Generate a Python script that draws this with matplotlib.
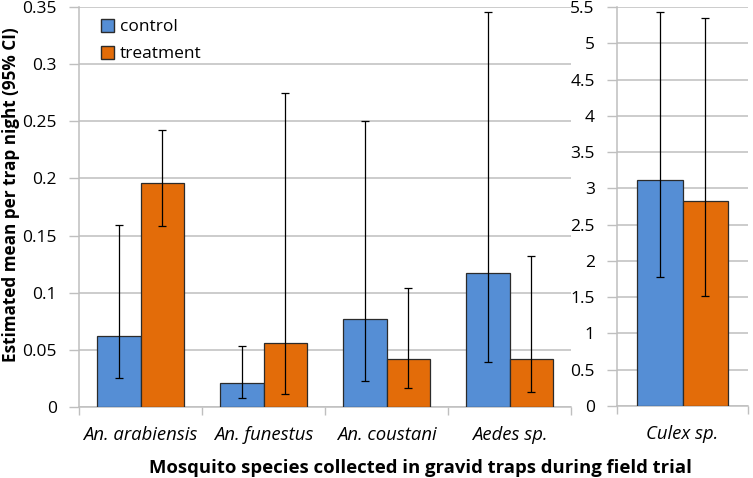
import matplotlib
matplotlib.use("Agg")
import matplotlib.pyplot as plt
import numpy as np
from matplotlib.patches import Patch

species = ["An. arabiensis", "An. funestus", "An. coustani", "Aedes sp."]
ctrl = [0.062, 0.021, 0.077, 0.117]
ctrl_lo = [0.025, 0.008, 0.023, 0.039]
ctrl_hi = [0.159, 0.053, 0.250, 0.346]
trt = [0.196, 0.056, 0.042, 0.042]
trt_lo = [0.158, 0.011, 0.017, 0.013]
trt_hi = [0.242, 0.275, 0.104, 0.132]

culex = ["Culex sp."]
culex_ctrl, culex_ctrl_lo, culex_ctrl_hi = [3.11], [1.78], [5.43]
culex_trt, culex_trt_lo, culex_trt_hi = [2.83], [1.52], [5.35]

BLUE, ORANGE = "#558ED5", "#E36C09"
GRID = "#BFBFBF"
plt.rcParams["font.family"] = ["Open Sans", "DejaVu Sans"]

fig = plt.figure(figsize=(7.53, 4.78), dpi=100)
axL = fig.add_axes([79 / 753, 1 - 407 / 478, 492 / 753, 400 / 478])
axR = fig.add_axes([617 / 753, 1 - 406 / 478, 131 / 753, 399 / 478])

W = 0.35


def draw(ax, names, c, clo, chi, t, tlo, thi, ymax, step, fmt):
    x = np.arange(len(names)) + 0.5
    c, t = np.array(c), np.array(t)
    ax.bar(x - W / 2, c, W, color=BLUE, edgecolor="#2b2b2b", lw=0.9, zorder=3)
    ax.bar(x + W / 2, t, W, color=ORANGE, edgecolor="#2b2b2b", lw=0.9, zorder=3)
    ax.errorbar(x - W / 2, c, yerr=[c - np.array(clo), np.array(chi) - c],
                fmt="none", ecolor="black", elinewidth=0.9, capsize=3,
                capthick=0.9, zorder=4)
    ax.errorbar(x + W / 2, t, yerr=[t - np.array(tlo), np.array(thi) - t],
                fmt="none", ecolor="black", elinewidth=0.9, capsize=3,
                capthick=0.9, zorder=4)
    ax.set_xlim(0, len(names))
    ax.set_ylim(0, ymax)
    ticks = np.arange(0, ymax + step / 2, step)
    ax.set_yticks(ticks)
    ax.set_yticklabels([fmt(v) for v in ticks], fontsize=12.5)
    ax.set_xticks(np.arange(len(names) + 1))
    ax.set_xticklabels([])
    ax.set_xticks(x, minor=True)
    ax.set_xticklabels(names, minor=True, style="italic", fontsize=13.3)
    ax.tick_params(axis="x", which="major", length=6, color=GRID, width=1)
    ax.tick_params(axis="x", which="minor", length=0, pad=14)
    ax.tick_params(axis="y", length=7, color=GRID, width=1, pad=9)
    ax.grid(True, axis="y", color=GRID, lw=1.1, zorder=0)
    for s in ["top", "right"]:
        ax.spines[s].set_visible(False)
    for s in ["left", "bottom"]:
        ax.spines[s].set_color(GRID)
        ax.spines[s].set_linewidth(1.1)


def fmt_num(v):
    return f"{v:.2f}".rstrip("0").rstrip(".") if v else "0"


draw(axL, species, ctrl, ctrl_lo, ctrl_hi, trt, trt_lo, trt_hi, 0.35, 0.05, fmt_num)
draw(axR, culex, culex_ctrl, culex_ctrl_lo, culex_ctrl_hi,
     culex_trt, culex_trt_lo, culex_trt_hi, 5.5, 0.5, fmt_num)

axL.legend(handles=[Patch(facecolor=BLUE, edgecolor="#2b2b2b", label="control"),
                    Patch(facecolor=ORANGE, edgecolor="#2b2b2b", label="treatment")],
           loc="upper left", bbox_to_anchor=(0.012, 1.01), frameon=False,
           fontsize=12.5, handlelength=0.8, handleheight=0.8,
           handletextpad=0.3, labelspacing=0.6)

fig.text(11 / 753, 1 - 195 / 478, "Estimated mean per trap night (95% CI)",
         rotation=90, ha="center", va="center", fontsize=12.3, fontweight="bold")
fig.text(420 / 753, 1 - 468 / 478,
         "Mosquito species collected in gravid traps during field trial",
         ha="center", va="center", fontsize=13.3, fontweight="bold")

fig.savefig("out.png", dpi=100)
